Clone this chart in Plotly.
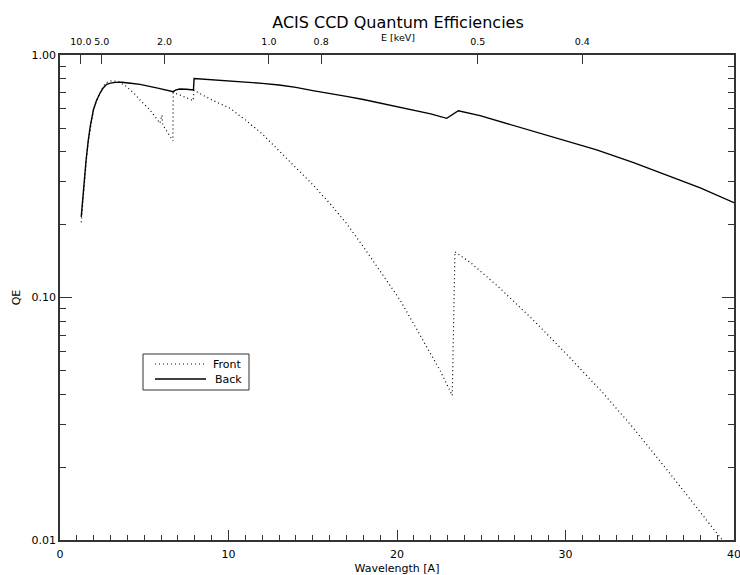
import plotly.graph_objects as go

# Back-illuminated CCD quantum efficiency vs wavelength (Angstrom)
back_wl = [1.26, 1.35, 1.45, 1.55, 1.68, 1.8, 1.98, 2.15, 2.37, 2.55, 2.77, 3.0, 3.3, 3.66,
           4.2, 4.75, 5.8, 6.72, 6.85, 7.1, 7.5, 7.92, 7.96, 9.0, 10.0, 11.0, 12.0, 13.0,
           14.0, 15.0, 16.0, 17.0, 18.0, 19.0, 20.0, 21.0, 22.0, 22.95, 23.64, 24.93, 26.0,
           27.89, 30.0, 31.85, 34.0, 35.8, 38.0, 40.0]
back_qe = [0.215, 0.26, 0.31, 0.37, 0.446, 0.51, 0.593, 0.645, 0.695, 0.73, 0.757, 0.766,
           0.771, 0.772, 0.765, 0.757, 0.73, 0.706, 0.716, 0.724, 0.722, 0.718, 0.80, 0.792,
           0.783, 0.775, 0.764, 0.752, 0.735, 0.713, 0.695, 0.675, 0.655, 0.633, 0.612,
           0.592, 0.572, 0.548, 0.589, 0.562, 0.535, 0.487, 0.445, 0.406, 0.361, 0.324,
           0.283, 0.246]

# Front-illuminated CCD quantum efficiency vs wavelength (Angstrom)
front_wl = [1.26, 1.35, 1.45, 1.55, 1.68, 1.8, 1.98, 2.15, 2.37, 2.55, 2.77, 3.06, 3.5,
            3.96, 4.4, 4.75, 5.34, 5.93, 6.05, 6.1, 6.70, 6.72, 7.2, 7.9, 7.95, 9.0, 10.09,
            11.0, 12.0, 13.06, 14.0, 15.0, 16.02, 17.0, 18.0, 19.0, 20.18, 21.0, 22.0,
            22.55, 23.28, 23.44, 24.43, 26.0, 28.09, 30.0, 32.24, 34.0, 36.2, 38.0, 39.07,
            39.4]
front_qe = [0.204, 0.25, 0.30, 0.36, 0.44, 0.505, 0.59, 0.645, 0.70, 0.74, 0.77, 0.783,
            0.775, 0.74, 0.695, 0.652, 0.593, 0.523, 0.565, 0.515, 0.442, 0.70, 0.68, 0.648,
            0.715, 0.653, 0.603, 0.540, 0.473, 0.398, 0.343, 0.292, 0.244, 0.202, 0.162,
            0.129, 0.0977, 0.0776, 0.0582, 0.0501, 0.0394, 0.1545, 0.138, 0.111, 0.0807,
            0.059, 0.0403, 0.0291, 0.0188, 0.0131, 0.0105, 0.0098]

# Top axis: photon energy labels placed at the matching wavelength
energy_kev = [10.0, 5.0, 2.0, 1.0, 0.8, 0.5, 0.4]
energy_labels = ["10.0", "5.0", "2.0", "1.0", "0.8", "0.5", "0.4"]
HC = 12.398  # keV * Angstrom
energy_pos = [HC / e for e in energy_kev]

qe_ticks = [0.01, 0.1, 1.0]
qe_labels = ["0.01", "0.10", "1.00"]
qe_minor = [m * d for d in (0.01, 0.1) for m in range(2, 10)]

series_names = ["Front", "Back"]

FONT = "DejaVu Sans"
AX = "#333333"
DOT = "1px,3px"

# plot area in pixels: left 60, right 734, top 55, bottom 540
L, R, T, B = 60, 734, 55, 540


def px(xpix):
    return (xpix - L) / (R - L)


def py(ypix):
    return (B - ypix) / (B - T)


fig = go.Figure()
fig.add_trace(go.Scatter(x=front_wl, y=front_qe, mode="lines", name=series_names[0],
                         line=dict(color="black", width=1.2, dash=DOT)))
fig.add_trace(go.Scatter(x=back_wl, y=back_qe, mode="lines", name=series_names[1],
                         line=dict(color="black", width=1.4)))
# invisible trace so the energy axis is drawn
fig.add_trace(go.Scatter(x=[0, 40], y=[0.5, 0.5], xaxis="x2", mode="lines",
                         line=dict(width=0), showlegend=False, hoverinfo="skip"))

# boxed key with line samples
shapes = [
    dict(type="rect", xref="paper", yref="paper", x0=px(143), x1=px(249),
         y0=py(390), y1=py(354), line=dict(color=AX, width=1), fillcolor="white",
         layer="above"),
    dict(type="line", xref="paper", yref="paper", x0=px(155), x1=px(206),
         y0=py(364), y1=py(364), line=dict(color="black", width=1.2, dash=DOT)),
    dict(type="line", xref="paper", yref="paper", x0=px(155), x1=px(206),
         y0=py(379), y1=py(379), line=dict(color="black", width=1.4)),
]
annotations = [
    dict(text=series_names[0], xref="paper", yref="paper", x=px(244), y=py(364),
         xanchor="right", yanchor="middle", showarrow=False, font=dict(size=11)),
    dict(text=series_names[1], xref="paper", yref="paper", x=px(244), y=py(379),
         xanchor="right", yanchor="middle", showarrow=False, font=dict(size=11)),
    dict(text="E [keV]", xref="paper", yref="paper", x=px(398), y=py(38),
         xanchor="center", yanchor="middle", showarrow=False, font=dict(size=9.5)),
]

fig.update_layout(
    width=740, height=575,
    margin=dict(l=L, r=740 - R, t=T, b=575 - B),
    paper_bgcolor="white", plot_bgcolor="white",
    font=dict(family=FONT, color="black", size=11),
    title=dict(text="ACIS CCD Quantum Efficiencies", x=px(398), xref="paper",
               xanchor="center", y=1 - 22 / 575, yref="container", yanchor="middle",
               font=dict(size=16)),
    showlegend=False,
    shapes=shapes,
    annotations=annotations,
    xaxis=dict(range=[0, 40], tickvals=[0, 10, 20, 30, 40], ticks="inside",
               ticklen=10, tickcolor=AX, showline=True, linecolor=AX, linewidth=1.5,
               showgrid=False, zeroline=False, mirror=False, automargin=False,
               ticklabelstandoff=3, ticklabeloverflow="allow",
               minor=dict(dtick=1, tick0=0, ticks="inside", ticklen=5, tickcolor=AX,
                          showgrid=False),
               title=dict(text="Wavelength [A]", standoff=4, font=dict(size=11))),
    xaxis2=dict(range=[0, 40], overlaying="x", side="top", tickvals=energy_pos,
                ticktext=energy_labels, ticks="inside", ticklen=9, tickcolor=AX,
                showline=True, linecolor=AX, linewidth=1.5, showgrid=False,
                zeroline=False, tickfont=dict(size=9.5), automargin=False,
                ticklabelstandoff=4, ticklabeloverflow="allow"),
    yaxis=dict(type="log", range=[-2, 0], tickvals=qe_ticks, ticktext=qe_labels,
               ticks="inside", ticklen=12, tickcolor=AX, showline=True, linecolor=AX,
               linewidth=1.5, mirror="ticks", showgrid=False, zeroline=False,
               automargin=False, ticklabeloverflow="allow",
               minor=dict(tickvals=qe_minor, ticks="inside", ticklen=6, tickcolor=AX,
                          showgrid=False),
               title=dict(text="QE", standoff=9, font=dict(size=11))),
)

fig.write_html("out.html")
